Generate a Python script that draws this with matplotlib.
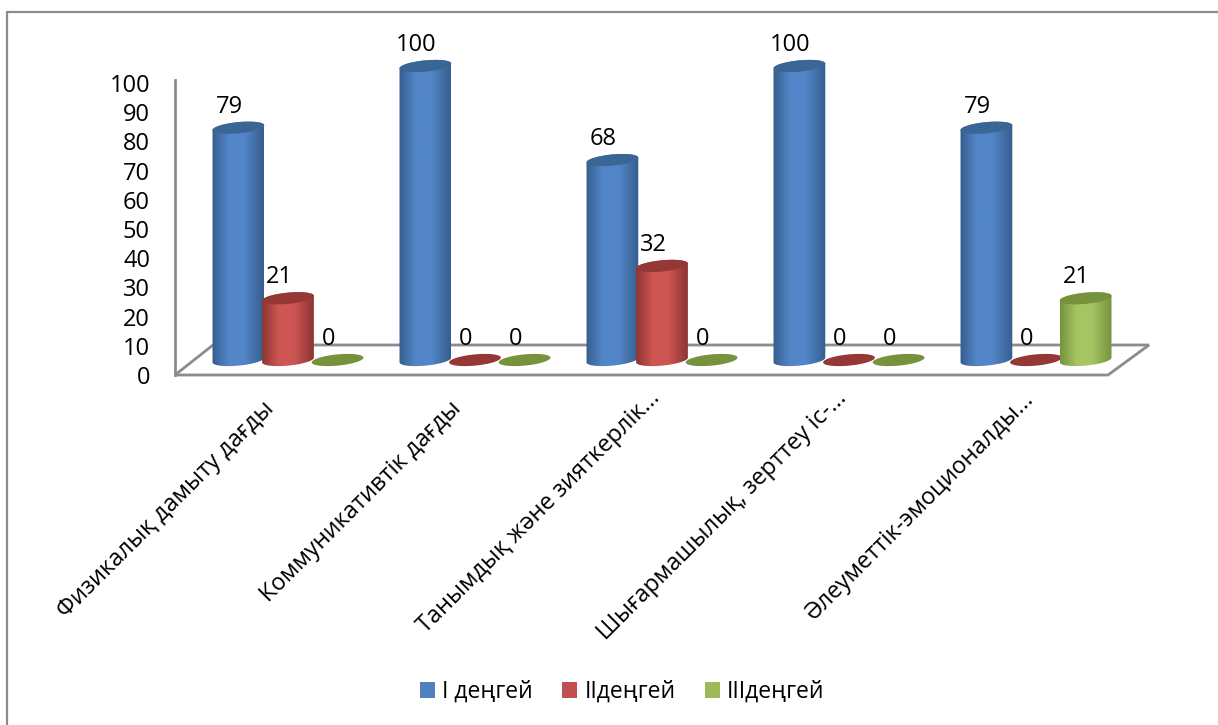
import numpy as np
import matplotlib
matplotlib.use("Agg")
import matplotlib.pyplot as plt
from matplotlib.colors import LinearSegmentedColormap
from matplotlib.lines import Line2D
from matplotlib.patches import Patch, PathPatch
from matplotlib.path import Path
from matplotlib.transforms import Affine2D

plt.rcParams['font.family'] = ['Open Sans', 'Noto Sans', 'DejaVu Sans']

categories = [
    "Физикалық дамыту дағды",
    "Коммуникативтік дағды",
    "Танымдық және зияткерлік...",
    "Шығармашылық, зерттеу іс-...",
    "Әлеуметтік-эмоционалды...",
]
series_names = ["I деңгей", "IIдеңгей", "IIIдеңгей"]
level_1 = [79, 100, 68, 100, 79]
level_2 = [21, 0, 32, 0, 0]
level_3 = [0, 0, 0, 0, 21]
y_ticks = list(range(0, 101, 10))

# edge, middle, top-cap colours per series
legend_colors = ["#4f81bd", "#c0504d", "#9bbb59"]
body_edge = ["#355e8e", "#8c3533", "#76923c"]
body_mid = ["#5386c8", "#cd5653", "#a6c562"]
cap_colors = ["#3a6696", "#953735", "#76923c"]

W, H = 1218, 725
GROUP_PX = 187.0     # distance between categories
BAR_PX = 49.6        # distance between bars in a category
VALUE_PX = 2.94      # height of one value unit
A, B, TILT = 26.0, 5.6, np.radians(5.5)

fig = plt.figure(figsize=(W / 100, H / 100), dpi=100, facecolor="white")
# pixel coordinates, measured from the top left of the picture
px = Affine2D().scale(1, -1).translate(0, H)


def add_line(xs, ys, lw=2.0):
    # below the axes so the bars cover the floor
    fig.add_artist(Line2D(xs, ys, transform=px, color="#8c8c8c", lw=lw, zorder=-1,
                          solid_capstyle="butt", solid_joinstyle="miter"))


# outer frame runs off the top right
add_line([6.5, 6.5, W], [H, 12, 12], lw=1.6)

# floor of the 3d box
add_line([175, 1108, 1149, 1110], [375, 375, 345, 345])
add_line([175, 213, 1110], [375, 345, 345])

# wall axis carries the tick labels
wall = fig.add_axes([175 / W, 1 - 375 / H, 0.001, (375 - 80) / H])
wall.set_ylim(0, 101)
wall.set_xticks([])
wall.set_yticks(y_ticks)
wall.tick_params(axis="y", length=0, pad=18, labelsize=17, labelcolor="black")
for name in ["top", "right", "bottom"]:
    wall.spines[name].set_visible(False)
wall.spines["left"].set_color("#8c8c8c")
wall.spines["left"].set_linewidth(2)
wall.patch.set_alpha(0)

# main axes: x in category index, y in value units
ax = fig.add_axes([0, 0, 1, 1])
ax.patch.set_alpha(0)
ax.axis("off")
xlim = ((0 - 288) / GROUP_PX, (W - 288) / GROUP_PX)
ylim = ((360 - H) / VALUE_PX, 360 / VALUE_PX)


def ellipse_xy(cx, val, t):
    dx = A * np.cos(t) * np.cos(TILT) - B * np.sin(t) * np.sin(TILT)
    dy = A * np.cos(t) * np.sin(TILT) + B * np.sin(t) * np.cos(TILT)
    return np.column_stack([cx + dx / GROUP_PX, val + dy / VALUE_PX])


def draw_cylinder(cx, val, idx):
    if val > 0:
        lower = ellipse_xy(cx, 0, np.linspace(np.pi, 2 * np.pi, 60))
        upper = ellipse_xy(cx, val, np.linspace(0, np.pi, 60))
        body = Path(np.vstack([lower, upper, lower[:1]]), closed=True)
        cmap = LinearSegmentedColormap.from_list(
            "body", [(0, body_edge[idx]), (0.32, body_mid[idx]), (0.62, body_mid[idx]), (1, body_edge[idx])])
        im = ax.imshow(np.linspace(0, 1, 128)[None, :], cmap=cmap, aspect="auto",
                       extent=[cx - A / GROUP_PX, cx + A / GROUP_PX, -3, val + 3],
                       zorder=2 + idx, interpolation="bilinear")
        im.set_clip_path(body, transform=ax.transData)
    cap = ellipse_xy(cx, val, np.linspace(0, 2 * np.pi, 120))
    ax.add_patch(PathPatch(Path(cap, closed=True), facecolor=cap_colors[idx],
                           edgecolor="none", zorder=2 + idx))


for idx, values in enumerate([level_1, level_2, level_3]):
    for i, val in enumerate(values):
        cx = i + (idx - 1) * BAR_PX / GROUP_PX
        draw_cylinder(cx, val, idx)
        ax.annotate(str(val), (cx, val), xytext=(-9, 21), textcoords="offset pixels",
                    ha="center", va="center", fontsize=17, color="black", zorder=6)

for i, label in enumerate(categories):
    # long labels are cut off a little higher
    cut = label.endswith("...")
    ax.annotate(label, (i, 0), xytext=(-6 if cut else -17, -35 if cut else -45),
                textcoords="offset pixels", rotation=45, rotation_mode="anchor",
                ha="right", va="center", fontsize=16.9, color="black")

ax.set_xlim(*xlim)
ax.set_ylim(*ylim)

handles = [Patch(facecolor=c, edgecolor="none") for c in legend_colors]
fig.legend(handles, series_names, loc="center", bbox_to_anchor=(622 / W, 1 - 692 / H),
           ncol=3, frameon=False, fontsize=16.5, handlelength=0.66, handleheight=0.66,
           handletextpad=0.32, columnspacing=1.27)

fig.savefig("out.png", dpi=100)
